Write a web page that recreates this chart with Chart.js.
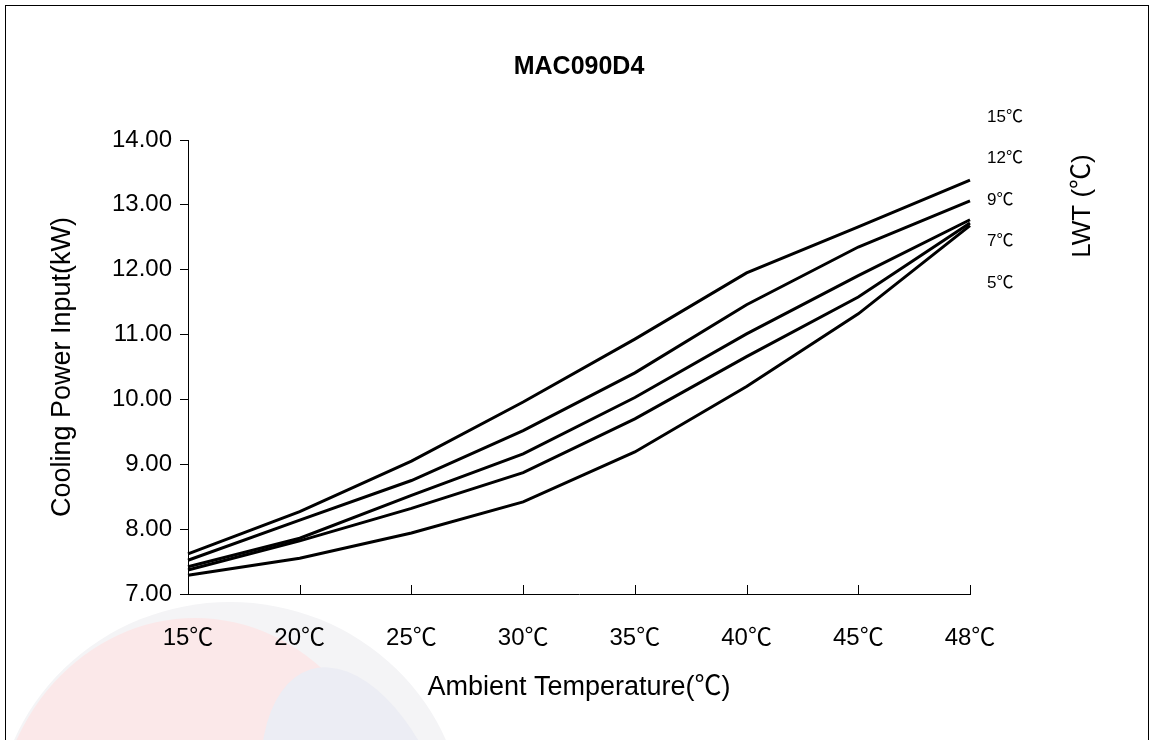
<!DOCTYPE html>
<html>
<head>
<meta charset="utf-8">
<script src="https://cdn.jsdelivr.net/npm/chart.js@4/dist/chart.umd.min.js"></script>
<style>
  body { margin: 0; background: #ffffff; }
  #wrap { width: 1151px; height: 740px; }
</style>
</head>
<body>
<div id="wrap"><canvas id="powerChart" width="1151" height="740"></canvas></div>
<script>
// ambient temperatures on the x axis
const ambientLabels = ['15℃', '20℃', '25℃', '30℃', '35℃', '40℃', '45℃', '48℃'];

// cooling power input (kW) per leaving water temperature
const lwt15 = [7.62, 8.27, 9.05, 9.96, 10.93, 11.95, 12.66, 13.38];
const lwt12 = [7.52, 8.14, 8.75, 9.52, 10.41, 11.46, 12.35, 13.06];
const lwt9  = [7.42, 7.86, 8.52, 9.16, 10.03, 11.01, 11.91, 12.77];
const lwt7  = [7.37, 7.82, 8.32, 8.87, 9.70, 10.66, 11.58, 12.72];
const lwt5  = [7.29, 7.55, 7.94, 8.42, 9.19, 10.20, 11.32, 12.68];

// labels listed down the right side
const lwtLabels = ['15℃', '12℃', '9℃', '7℃', '5℃'];

const fontFamily = '"Liberation Sans", Arial, "Noto Sans CJK SC", sans-serif';

// faint watermark + outer frame
const backdrop = {
    id: 'backdrop',
    beforeDraw(chart) {
        const c = chart.ctx;
        c.save();
        c.fillStyle = 'rgba(244, 244, 246, 1)';
        c.beginPath();
        c.ellipse(230, 830, 235, 228, 0, 0, Math.PI * 2);
        c.fill();
        c.fillStyle = 'rgba(251, 232, 233, 1)';
        c.beginPath();
        c.ellipse(195, 840, 200, 222, 0, 0, Math.PI * 2);
        c.fill();
        c.fillStyle = 'rgba(236, 237, 244, 1)';
        c.beginPath();
        c.ellipse(360, 830, 90, 168, -0.3, 0, Math.PI * 2);
        c.fill();
        c.restore();
    },
    afterDraw(chart) {
        const c = chart.ctx;
        c.save();
        c.strokeStyle = '#000000';
        c.lineWidth = 1;
        c.strokeRect(5.5, 5.5, 1143, 800);
        c.restore();
    }
};

// title, inward tick marks on the x axis, LWT labels on the right
const extras = {
    id: 'extras',
    afterDraw(chart) {
        const c = chart.ctx;
        const xs = chart.scales.x;
        const area = chart.chartArea;
        c.save();
        c.fillStyle = '#000000';
        c.font = 'bold 25px ' + fontFamily;
        c.textAlign = 'center';
        c.textBaseline = 'middle';
        c.fillText('MAC090D4', (area.left + area.right) / 2, 67);

        c.strokeStyle = '#000000';
        c.lineWidth = 1;
        for (let i = 1; i < ambientLabels.length; i++) {
            const px = Math.round(xs.getPixelForTick(i)) + 0.5;
            c.beginPath();
            c.moveTo(px, area.bottom);
            c.lineTo(px, area.bottom - 9);
            c.stroke();
        }
        c.font = '17px ' + fontFamily;
        c.textAlign = 'left';
        lwtLabels.forEach((t, i) => {
            c.fillText(t, 987, 117 + i * 41.5);
        });
        c.font = '26px ' + fontFamily;
        c.translate(1083, 206);
        c.rotate(-Math.PI / 2);
        c.textAlign = 'center';
        c.fillText('LWT (℃)', 0, 0);
        c.restore();
    }
};

function lineSet(label, data) {
    return {
        label: label,
        data: data,
        borderColor: '#000000',
        backgroundColor: '#000000',
        borderWidth: 3,
        pointRadius: 0,
        tension: 0,
        fill: false
    };
}

const ctx = document.getElementById('powerChart');

new Chart(ctx, {
    type: 'line',
    data: {
        labels: ambientLabels,
        datasets: [
            lineSet('15℃', lwt15),
            lineSet('12℃', lwt12),
            lineSet('9℃', lwt9),
            lineSet('7℃', lwt7),
            lineSet('5℃', lwt5)
        ]
    },
    options: {
        responsive: false,
        animation: false,
        layout: {
            padding: { left: 0, right: 181, top: 140, bottom: 0 }
        },
        plugins: {
            legend: { display: false },
            tooltip: { enabled: false },
            title: { display: false }
        },
        scales: {
            x: {
                offset: false,
                afterFit(scale) { scale.height = 146; },
                grid: { display: true, drawOnChartArea: false, drawTicks: false },
                border: { display: true, color: '#000000', width: 1 },
                ticks: {
                    color: '#000000',
                    font: { family: fontFamily, size: 24 },
                    padding: 30,
                    maxRotation: 0,
                    autoSkip: false
                },
                title: {
                    display: true,
                    text: 'Ambient Temperature(℃)',
                    color: '#000000',
                    font: { family: fontFamily, size: 27 },
                    padding: { top: 4, bottom: 36 }
                }
            },
            y: {
                min: 7,
                max: 14,
                afterFit(scale) { scale.width = 188; },
                grid: { display: true, drawOnChartArea: false, drawTicks: true, tickLength: 8, color: '#000000' },
                border: { display: true, color: '#000000', width: 1 },
                ticks: {
                    stepSize: 1,
                    color: '#000000',
                    font: { family: fontFamily, size: 24 },
                    padding: 8,
                    callback: (v) => Number(v).toFixed(2)
                },
                title: {
                    display: true,
                    text: 'Cooling Power Input(kW)',
                    color: '#000000',
                    font: { family: fontFamily, size: 27 },
                    padding: { top: 46, bottom: 0 }
                }
            }
        }
    },
    plugins: [backdrop, extras]
});
</script>
</body>
</html>
